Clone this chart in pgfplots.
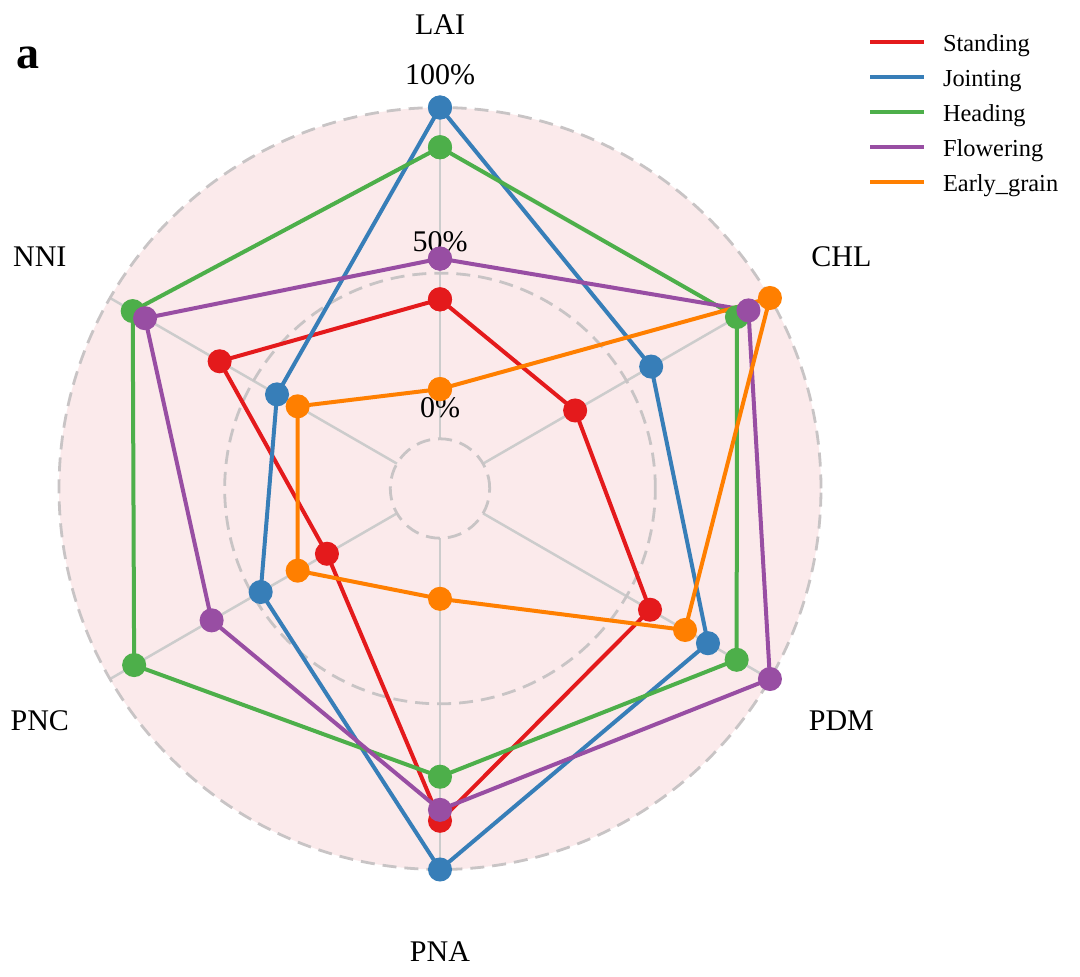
\documentclass[border=0pt]{standalone}
\usepackage{fontspec}
\setmainfont{Liberation Serif}
\usepackage{pgfplots}
\usepackage{pgfplotstable}
\pgfplotsset{compat=1.18}
\definecolor{cStand}{HTML}{E41A1C}
\definecolor{cJoint}{HTML}{377EB8}
\definecolor{cHead}{HTML}{4DAF4A}
\definecolor{cFlow}{HTML}{984EA3}
\definecolor{cEarly}{HTML}{FF7F00}
\definecolor{bgpink}{RGB}{251,234,235}
\definecolor{gridgray}{RGB}{204,204,204}
\definecolor{dashgray}{RGB}{200,196,197}

% angle (deg) and normalised value per growth stage; last row repeats the first to close the polygon
\pgfplotstableread{
ang std joi hea flo ear
90 0.421 1.000 0.880 0.544 0.150
30 0.321 0.586 0.885 0.925 1.000
-30 0.582 0.784 0.884 1.000 0.704
-90 0.853 1.000 0.720 0.820 0.183
-150 0.244 0.475 0.916 0.646 0.346
150 0.618 0.418 0.921 0.878 0.346
90 0.421 1.000 0.880 0.544 0.150
}\radardata

\newcommand{\lblfont}{\fontsize{15bp}{18bp}\selectfont}

\begin{document}
\begin{tikzpicture}
\begin{axis}[
  scale only axis, width=540bp, height=488.5bp,
  xmin=-1.3281, xmax=1.9318, ymin=-1.4745, ymax=1.4745,
  hide axis, clip=false,
  legend style={at={(axis cs:1.2919,1.390)}, anchor=north west, draw=none, fill=none,
    inner sep=0pt, outer sep=0pt, row sep=3.5bp, column sep=8.5bp,
    font=\fontsize{12.2bp}{15bp}\selectfont,
    nodes={inner sep=0pt, text height=12bp, text depth=2bp}},
  legend cell align=left,
  legend image code/.code={\draw[#1, mark=none] (0bp,0bp) -- (27bp,0bp);},
]
\path (rel axis cs:0,0) rectangle (rel axis cs:1,1);
% background
\fill[bgpink] (axis cs:0,0) circle[radius=1.15];
\pgfplotsinvokeforeach{90,30,-30,-90,-150,150}{
  \draw[gridgray, line width=1.25bp] (axis cs:{0.15*cos(#1)},{0.15*sin(#1)}) -- (axis cs:{1.15*cos(#1)},{1.15*sin(#1)});
}
\draw[dashgray, line width=1.4bp, dash pattern=on 7bp off 4bp] (axis cs:0,0) circle[radius=0.15];
\draw[dashgray, line width=1.4bp, dash pattern=on 7bp off 4bp] (axis cs:0,0) circle[radius=0.65];
\draw[dashgray, line width=1.4bp, dash pattern=on 7bp off 4bp] (axis cs:0,0) circle[radius=1.15];
% category labels
\node[font=\lblfont, inner sep=0pt] at (axis cs:{1.399*cos(90)},{1.399*sin(90)}) {LAI};
\node[font=\lblfont, inner sep=0pt] at (axis cs:{1.399*cos(30)},{1.399*sin(30)}) {CHL};
\node[font=\lblfont, inner sep=0pt] at (axis cs:{1.399*cos(-30)},{1.399*sin(-30)}) {PDM};
\node[font=\lblfont, inner sep=0pt] at (axis cs:{1.399*cos(-90)},{1.399*sin(-90)}) {PNA};
\node[font=\lblfont, inner sep=0pt] at (axis cs:{1.395*cos(-150)},{1.399*sin(-150)}) {PNC};
\node[font=\lblfont, inner sep=0pt] at (axis cs:{1.395*cos(150)},{1.399*sin(150)}) {NNI};
% radial labels
\node[font=\lblfont, inner sep=0pt] at (axis cs:0,0.243) {0\%};
\node[font=\lblfont, inner sep=0pt] at (axis cs:0,0.744) {50\%};
\node[font=\lblfont, inner sep=0pt] at (axis cs:0,1.248) {100\%};
% panel letter
\node[font=\fontsize{23bp}{26bp}\selectfont\bfseries, inner sep=0pt] at (axis cs:-1.2436,1.2994) {a};

\addplot[cStand, line width=2bp, mark=*, mark size=5bp, mark options={solid, draw=none}]
  table[x expr={(\thisrow{std}+0.15)*cos(\thisrow{ang})}, y expr={(\thisrow{std}+0.15)*sin(\thisrow{ang})}] {\radardata};
\addlegendentry{Standing}
\addplot[cJoint, line width=2bp, mark=*, mark size=5bp, mark options={solid, draw=none}]
  table[x expr={(\thisrow{joi}+0.15)*cos(\thisrow{ang})}, y expr={(\thisrow{joi}+0.15)*sin(\thisrow{ang})}] {\radardata};
\addlegendentry{Jointing}
\addplot[cHead, line width=2bp, mark=*, mark size=5bp, mark options={solid, draw=none}]
  table[x expr={(\thisrow{hea}+0.15)*cos(\thisrow{ang})}, y expr={(\thisrow{hea}+0.15)*sin(\thisrow{ang})}] {\radardata};
\addlegendentry{Heading}
\addplot[cFlow, line width=2bp, mark=*, mark size=5bp, mark options={solid, draw=none}]
  table[x expr={(\thisrow{flo}+0.15)*cos(\thisrow{ang})}, y expr={(\thisrow{flo}+0.15)*sin(\thisrow{ang})}] {\radardata};
\addlegendentry{Flowering}
\addplot[cEarly, line width=2bp, mark=*, mark size=5bp, mark options={solid, draw=none}]
  table[x expr={(\thisrow{ear}+0.15)*cos(\thisrow{ang})}, y expr={(\thisrow{ear}+0.15)*sin(\thisrow{ang})}] {\radardata};
\addlegendentry{Early\_grain}
\end{axis}
\end{tikzpicture}
\end{document}
